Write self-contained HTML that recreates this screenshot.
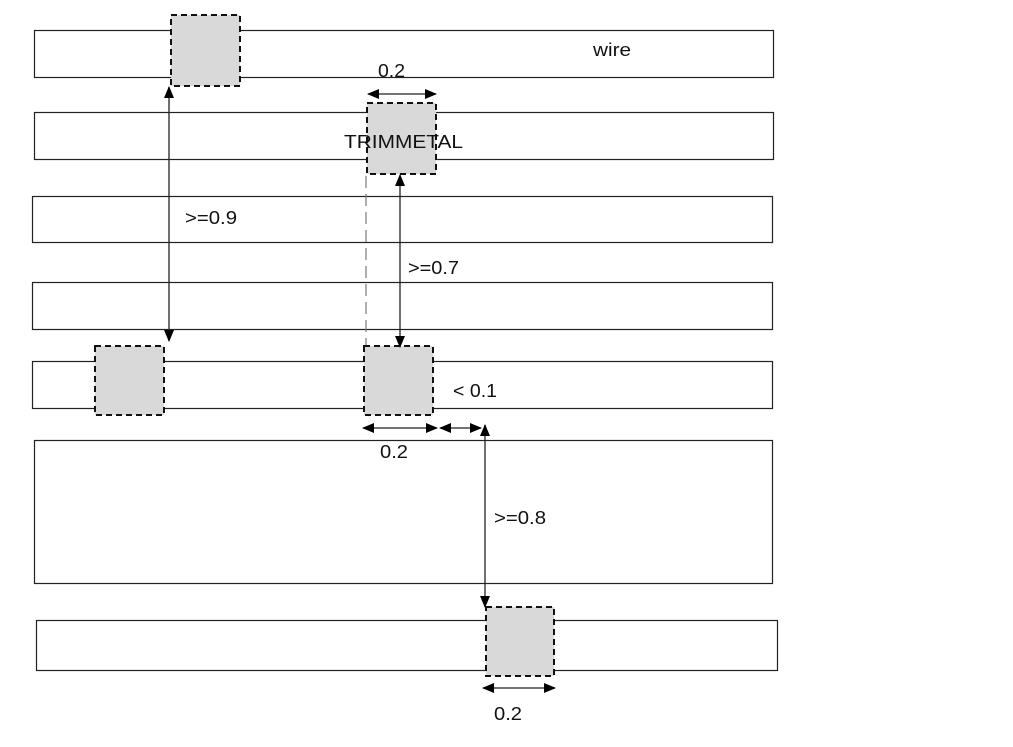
<!DOCTYPE html>
<html><head><meta charset="utf-8"><style>
html,body{margin:0;padding:0;background:#fff;}
svg{display:block;}
text{font-family:"Liberation Sans",sans-serif;font-size:18px;fill:#111;}
</style></head><body>
<svg width="1013" height="747" viewBox="0 0 1013 747" xmlns="http://www.w3.org/2000/svg">
<defs>
<marker id="a" markerWidth="12" markerHeight="10" refX="11" refY="5" orient="auto-start-reverse" markerUnits="userSpaceOnUse">
<path d="M0,0 L12,5 L0,10 Z" fill="#000"/>
</marker>
</defs>
<g fill="#fff" stroke="#222" stroke-width="1.2">
<rect x="34.5" y="30.5" width="739" height="47"/>
<rect x="34.5" y="112.5" width="739" height="47"/>
<rect x="32.5" y="196.5" width="740" height="46"/>
<rect x="32.5" y="282.5" width="740" height="47"/>
<rect x="32.5" y="361.5" width="740" height="47"/>
<rect x="34.5" y="440.5" width="738" height="143"/>
<rect x="36.5" y="620.5" width="741" height="50"/>
</g>
<g fill="#d9d9d9" stroke="#111" stroke-width="2" stroke-dasharray="6,4">
<rect x="171" y="15" width="69" height="71"/>
<rect x="367" y="103" width="69" height="71"/>
<rect x="95" y="346" width="69" height="69"/>
<rect x="364" y="346" width="69" height="69"/>
<rect x="486" y="607" width="68" height="69"/>
</g>
<text x="344" y="148" textLength="119" lengthAdjust="spacingAndGlyphs">TRIMMETAL</text>
<line x1="366" y1="176" x2="366" y2="345" stroke="#777" stroke-width="1.2" stroke-dasharray="12,6"/>
<g stroke="#222" stroke-width="1.3" fill="none">
<line x1="169" y1="87" x2="169" y2="341" marker-start="url(#a)" marker-end="url(#a)"/>
<line x1="368" y1="94" x2="436" y2="94" marker-start="url(#a)" marker-end="url(#a)"/>
<line x1="400" y1="175" x2="400" y2="347" marker-start="url(#a)" marker-end="url(#a)"/>
<line x1="363" y1="428" x2="437" y2="428" marker-start="url(#a)" marker-end="url(#a)"/>
<line x1="440" y1="428" x2="481" y2="428" marker-start="url(#a)" marker-end="url(#a)"/>
<line x1="485" y1="425" x2="485" y2="607" marker-start="url(#a)" marker-end="url(#a)"/>
<line x1="483" y1="688" x2="555" y2="688" marker-start="url(#a)" marker-end="url(#a)"/>
</g>
<text x="593" y="56" textLength="38" lengthAdjust="spacingAndGlyphs">wire</text>
<text x="378" y="77" textLength="27" lengthAdjust="spacingAndGlyphs">0.2</text>
<text x="185" y="224" textLength="52" lengthAdjust="spacingAndGlyphs">&gt;=0.9</text>
<text x="408" y="274" textLength="51" lengthAdjust="spacingAndGlyphs">&gt;=0.7</text>
<text x="453" y="397" textLength="44" lengthAdjust="spacingAndGlyphs">&lt; 0.1</text>
<text x="380" y="458" textLength="28" lengthAdjust="spacingAndGlyphs">0.2</text>
<text x="494" y="524" textLength="52" lengthAdjust="spacingAndGlyphs">&gt;=0.8</text>
<text x="494" y="720" textLength="28" lengthAdjust="spacingAndGlyphs">0.2</text>
</svg>
</body></html>
